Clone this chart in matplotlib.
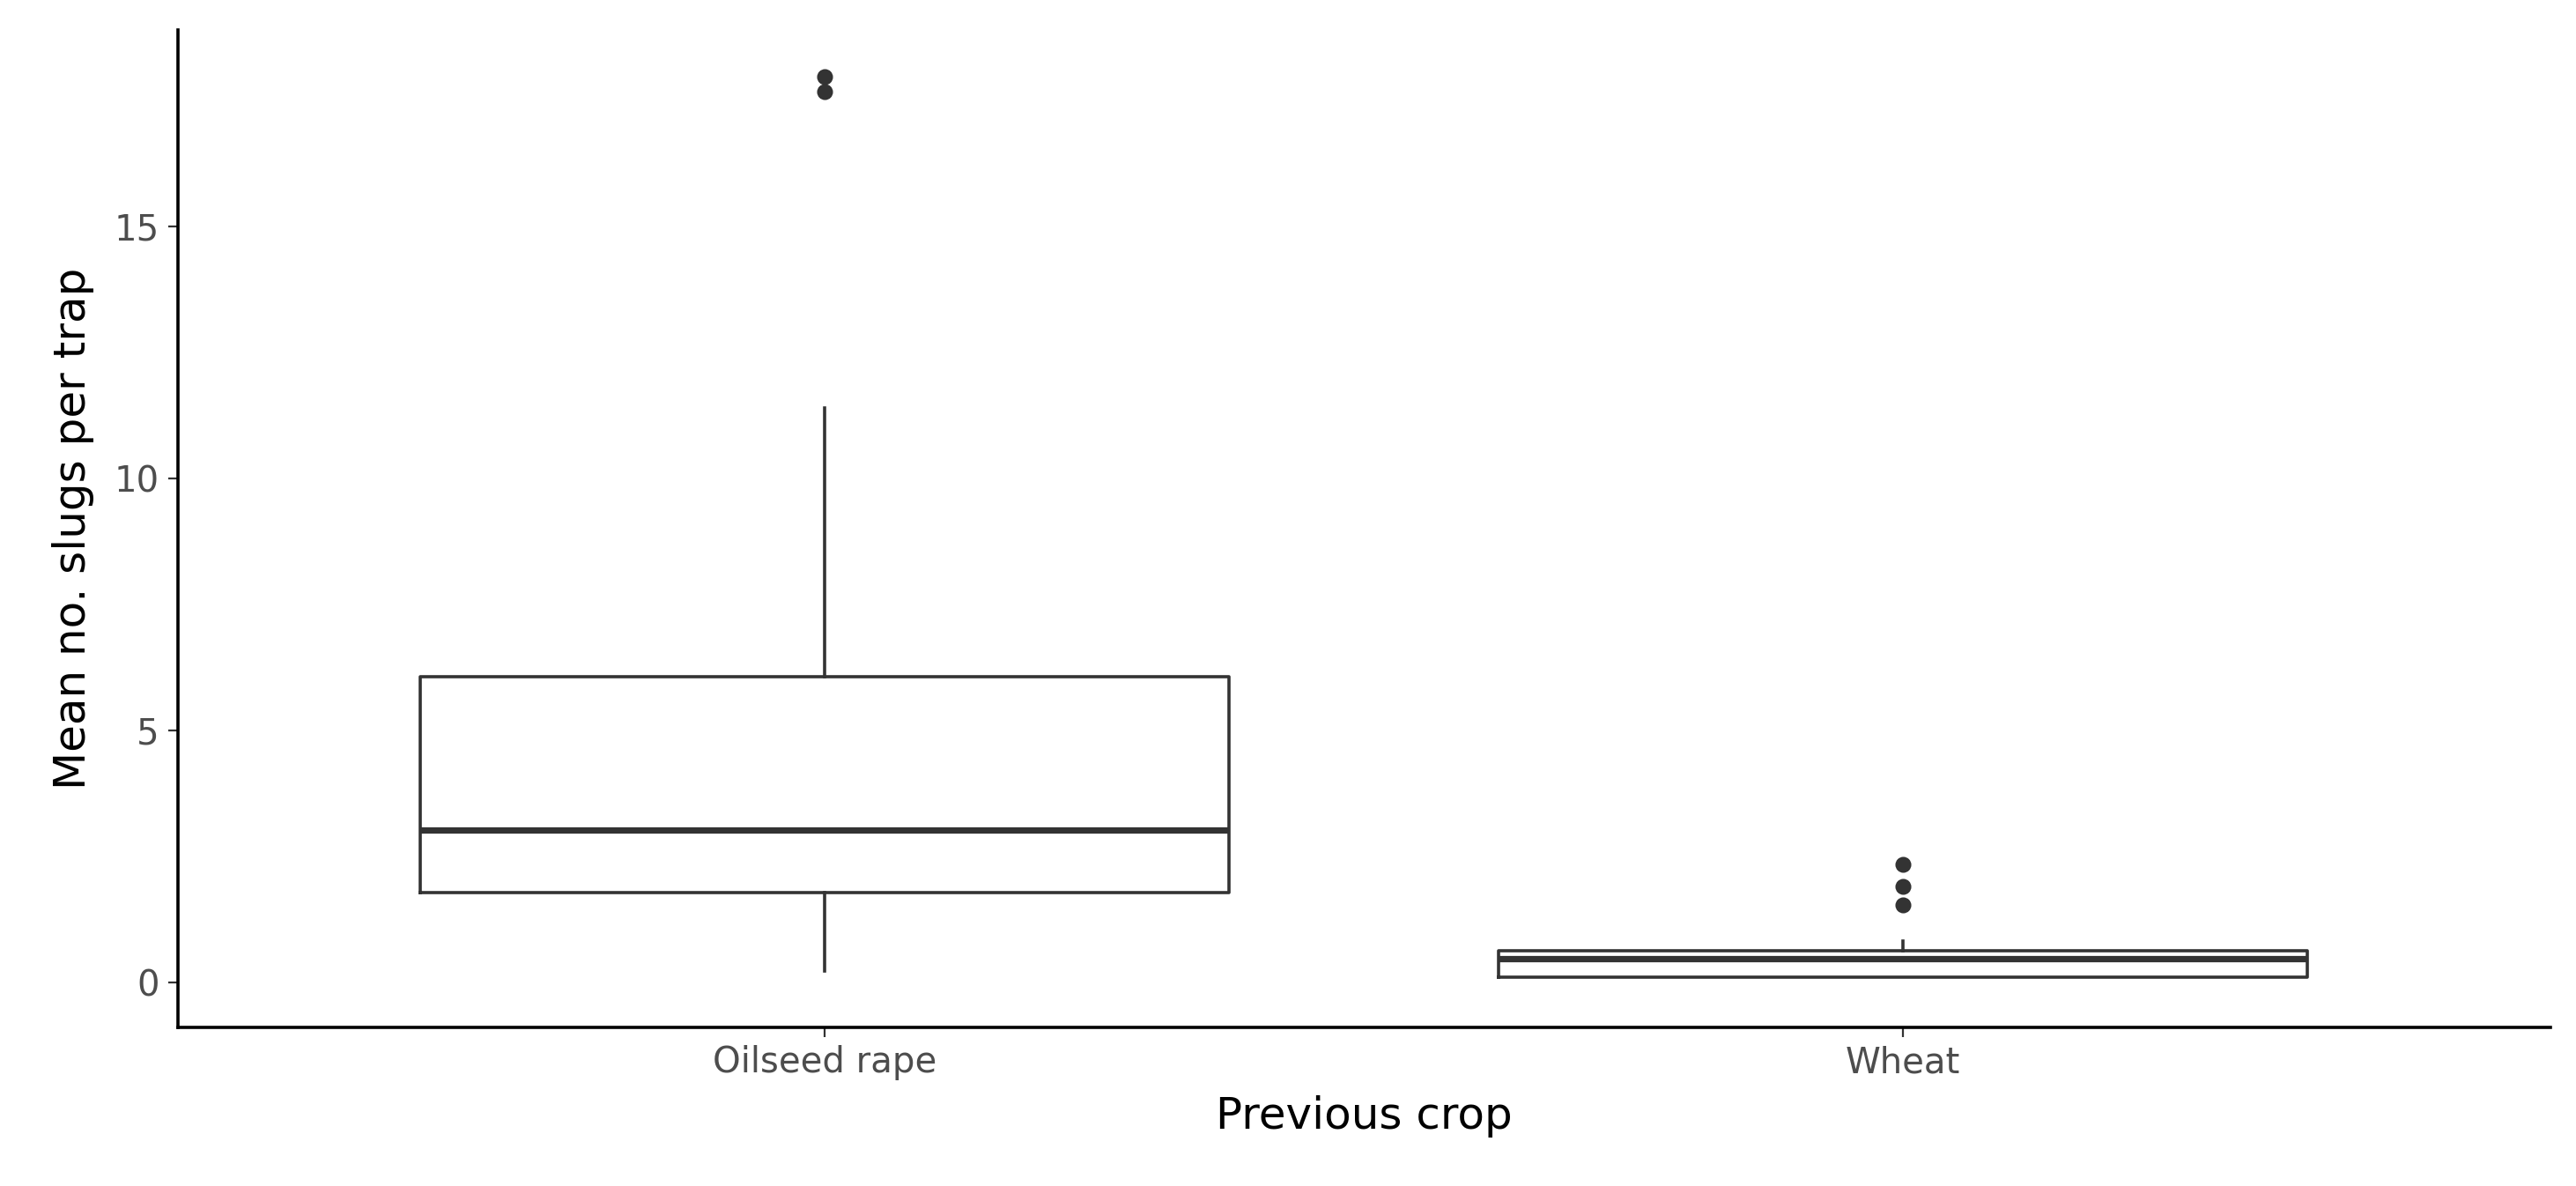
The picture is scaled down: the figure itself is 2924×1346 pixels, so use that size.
import matplotlib.pyplot as plt

crops = ["Oilseed rape", "Wheat"]
q1 = [1.77, 0.10]
med = [3.02, 0.46]
q3 = [6.07, 0.62]
whislo = [0.23, 0.10]
whishi = [11.4, 0.82]
fliers = [[17.97, 17.67], [2.33, 1.90, 1.54]]

stats = [
    dict(label=c, q1=a, med=m, q3=b, whislo=lo, whishi=hi, fliers=f)
    for c, a, m, b, lo, hi, f in zip(crops, q1, med, q3, whislo, whishi, fliers)
]

fig = plt.figure(figsize=(14.62, 6.73), dpi=200)
ax = fig.add_axes([0.069, 0.134, 0.921, 0.841])
ax.bxp(stats, positions=[1, 2], widths=0.75, showcaps=False,
       boxprops=dict(color="#333333", linewidth=1.3),
       medianprops=dict(color="#333333", linewidth=2.6),
       whiskerprops=dict(color="#333333", linewidth=1.3),
       flierprops=dict(marker="o", markerfacecolor="#333333",
                       markeredgecolor="#333333", markersize=5.5))
ax.set_xlim(0.4, 2.6)
ax.set_ylim(-0.89, 18.9)
ax.set_yticks([0, 5, 10, 15])
ax.set_xticks([1, 2])
ax.set_xticklabels(crops)
for s in ["top", "right"]:
    ax.spines[s].set_visible(False)
for s in ["left", "bottom"]:
    ax.spines[s].set_linewidth(1.3)
ax.tick_params(labelsize=14.5, labelcolor="#4D4D4D", color="#333333", length=4)
ax.set_xlabel("Previous crop", fontsize=18, labelpad=6)
ax.set_ylabel("Mean no. slugs per trap", fontsize=18, labelpad=8)
fig.savefig("out.png", dpi=200)
